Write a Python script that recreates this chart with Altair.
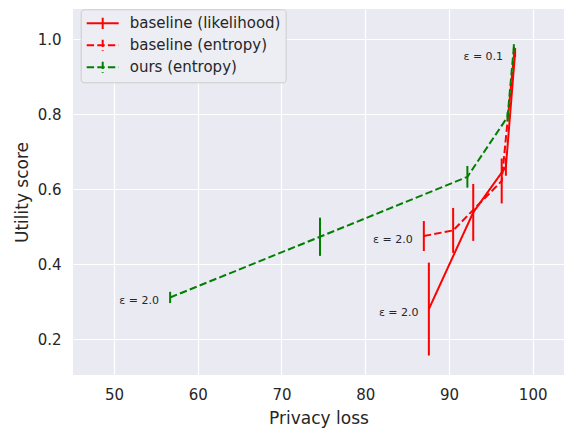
import altair as alt
import pandas as pd

series_names = ["baseline (likelihood)", "baseline (entropy)", "ours (entropy)"]
series_colors = ["#ff0000", "#ff0000", "#008000"]

likelihood_x = [87.6, 92.9, 96.8, 97.9]
likelihood_y = [0.28, 0.538, 0.66, 0.965]
likelihood_err = [0.124, 0.076, 0.024, 0.012]

entropy_x = [87.0, 90.5, 96.3, 97.8]
entropy_y = [0.475, 0.49, 0.622, 0.965]
entropy_err = [0.04, 0.06, 0.06, 0.01]

ours_x = [56.7, 74.6, 92.2, 97.0, 97.75]
ours_y = [0.311, 0.473, 0.633, 0.793, 0.979]
ours_err = [0.015, 0.051, 0.029, 0.012, 0.008]

ann_text = ["ε = 0.1", "ε = 2.0", "ε = 2.0", "ε = 2.0"]
ann_x = [94.1, 83.3, 84.0, 53.0]
ann_y = [0.953, 0.464, 0.270, 0.302]

x_ticks = [50, 60, 70, 80, 90, 100]
y_ticks = [0.2, 0.4, 0.6, 0.8, 1.0]

rows = []
for name, xs, ys, es in [
    (series_names[0], likelihood_x, likelihood_y, likelihood_err),
    (series_names[1], entropy_x, entropy_y, entropy_err),
    (series_names[2], ours_x, ours_y, ours_err),
]:
    for i, (x, y, e) in enumerate(zip(xs, ys, es)):
        rows.append({"series": name, "x": x, "y": y, "lo": y - e, "hi": y + e, "order": i})
df = pd.DataFrame(rows)
ann = pd.DataFrame({"text": ann_text, "x": ann_x, "y": ann_y})

xscale = alt.Scale(domain=[45.1, 103.74], nice=False, zero=False)
yscale = alt.Scale(domain=[0.104, 1.081], nice=False, zero=False)

xenc = alt.X("x:Q", scale=xscale, title="Privacy loss",
             axis=alt.Axis(values=x_ticks, format="d"))
yenc = alt.Y("y:Q", scale=yscale, title="Utility score",
             axis=alt.Axis(values=y_ticks, format=".1f"))

color = alt.Color("series:N", scale=alt.Scale(domain=series_names, range=series_colors), title=None)
dash = alt.StrokeDash("series:N",
                      scale=alt.Scale(domain=series_names, range=[[1, 0], [7.4, 3.2], [7.4, 3.2]]),
                      title=None)

layers = []
for name in series_names:
    sub = df[df.series == name]
    base = alt.Chart(sub)
    line = base.mark_line(strokeWidth=2).encode(
        x=xenc, y=yenc, color=color, strokeDash=dash, order="order:O")
    bars = base.mark_rule(strokeWidth=2).encode(
        x="x:Q", y="lo:Q", y2="hi:Q", color=color)
    layers += [line, bars]

texts = alt.Chart(ann).mark_text(font="DejaVu Sans", fontSize=11, color="#262626").encode(
    x="x:Q", y="y:Q", text="text:N")

chart = alt.layer(*layers, texts).properties(
    width=491, height=366,
    padding={"left": 5, "top": 0, "right": 0, "bottom": 5},
    background="white",
).configure_view(
    fill="#EAEAF2", stroke=None
).configure_axis(
    domain=False, ticks=False, grid=True, gridColor="white", gridWidth=1.2,
    labelColor="#262626", titleColor="#262626", labelFont="DejaVu Sans", titleFont="DejaVu Sans",
    labelFontSize=15, titleFontSize=17, titleFontWeight="normal",
).configure_axisX(
    labelPadding=12, titlePadding=8
).configure_axisY(
    labelPadding=12, titlePadding=6
).configure_legend(
    orient="none", legendX=7.7, legendY=0.3,
    symbolType="M-1,0H3M1,-0.7V0.7", symbolSize=256, symbolStrokeWidth=2,
    labelFont="DejaVu Sans", labelFontSize=15, labelColor="#262626", labelOffset=26,
    fillColor="#EDEDF4", strokeColor="#CCCCCC", cornerRadius=3, padding=5, rowPadding=2,
)

chart.save("out.html", embed_options={"renderer": "svg", "actions": False})
